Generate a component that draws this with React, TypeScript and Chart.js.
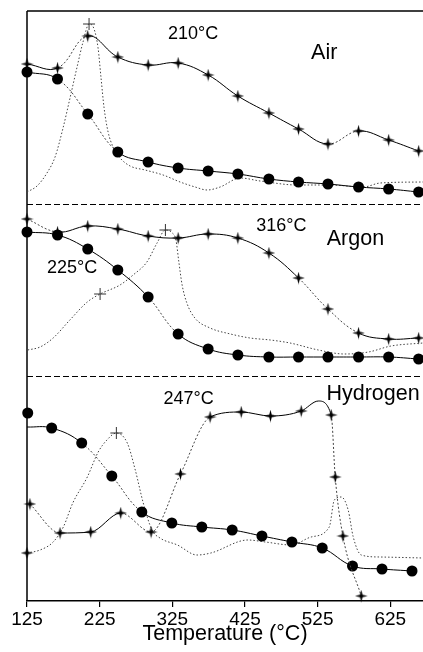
import React, { useEffect, useRef } from 'react';
import { Chart, registerables } from 'chart.js';

Chart.register(...registerables);

// ---------- axes ----------
const X_MIN = 125;
const X_MAX = 670;
const X_TICKS = [125, 225, 325, 425, 525, 625];
const X_TITLE = 'Temperature (°C)';
const Y_MIN = 0; // arbitrary, vertically offset units
const Y_MAX = 590;
const SEPARATORS = [397, 225];

// ---------- Air panel ----------
const AIR_T = [125, 167, 208.6, 250, 291.7, 333, 374.3, 415.2, 457.9, 498.7, 539.2, 581.3, 622.7, 664];
const AIR_STAR = [537, 533, 565, 544, 536, 538, 526, 505, 488, 472, 457, 470, 461, 450];
const AIR_CIRCLE = [529, 522, 487, 449, 439, 433, 430, 427, 422, 419, 417, 414, 412, 409];
const AIR_SIGNAL_T = [125, 138.8, 152.5, 163.6, 174.6, 184.2, 193.9, 202.1, 210.4, 217.3, 222.8, 226.9, 231.1, 236.6, 243.5, 253.1, 266.9, 287.5, 312.3, 335.7, 356.4, 372.9, 390.8, 418.4, 445.9, 496.9, 542.4, 587.8, 611.2, 670];
const AIR_SIGNAL = [409, 415, 428, 444, 473, 503, 534, 559, 577, 572, 553, 523, 493, 469, 454, 443, 435, 431, 426, 419, 414, 411, 414, 423, 420, 416, 416, 414, 418, 419];
const AIR_PEAK_T = [210.4];
const AIR_PEAK = [577];

// ---------- Argon panel ----------
const ARGON_T = AIR_T;
const ARGON_STAR = [382, 369, 375, 372, 365, 363, 367, 363, 348, 323, 292, 268, 262, 263];
const ARGON_CIRCLE = [369, 366, 352, 331, 304, 267, 252, 246, 244, 244, 244, 244, 244, 242];
const ARGON_SIGNAL_T = [126, 143, 161, 184, 208, 225.6, 253, 271, 290, 304, 315.5, 325, 330, 334, 338.5, 345, 356, 377, 405, 432, 460, 487, 526, 562, 595, 626, 670];
const ARGON_SIGNAL = [251, 254, 263, 281, 299, 307, 316, 326, 339, 358, 371, 368, 361, 339, 316, 298, 283, 273, 267, 263, 261, 258, 251, 247, 249, 255, 258];
const ARGON_PEAK_T = [225.6, 315.5];
const ARGON_PEAK = [307, 371];

// ---------- Hydrogen panel ----------
const H2_STAR_T = [129, 170.5, 212.7, 254, 295.8, 336.2, 377, 419.8, 460.1, 502.4, 526, 543.7, 549.2, 559.8, 585];
const H2_STAR = [97, 68, 69, 88, 69, 127, 184, 189, 185, 190, 200, 186, 124, 65, 5];
const H2_CIRCLE_T = [125, 159, 200.3, 241.7, 283, 324.3, 365.6, 407.4, 448.3, 489.6, 531.3, 573, 613.6, 654.9];
const H2_CIRCLE = [174, 173, 158, 125, 89, 78, 74, 71, 65, 59, 53, 35, 32, 30];
const H2_FIRST_CIRCLE_T = [126];
const H2_FIRST_CIRCLE = [188];
const H2_SIGNAL_T = [125, 143, 161, 175, 188, 208, 223, 235, 248, 263, 274, 285, 297, 308, 332, 359, 378, 429, 453, 489, 516, 541, 548, 557.5, 567, 574, 585, 611, 670];
const H2_SIGNAL = [48, 51, 59, 74, 98, 124, 149, 161, 168, 158, 131, 98, 71, 63, 56, 46, 48, 61, 59, 56, 64, 74, 101, 104, 91, 64, 46, 44, 43];
const H2_PEAK_T = [248];
const H2_PEAK = [168];

// ---------- text labels (data coordinates) ----------
const LABELS = [
  { text: '210°C', x: 353.6, y: 567, size: 18 },
  { text: 'Air', x: 534, y: 547.5, size: 21.5 },
  { text: '316°C', x: 475, y: 374.5, size: 18 },
  { text: 'Argon', x: 577, y: 362, size: 21.5 },
  { text: '225°C', x: 187, y: 332.7, size: 18 },
  { text: '247°C', x: 347.4, y: 201.5, size: 18 },
  { text: 'Hydrogen', x: 601.2, y: 206.5, size: 21.5 },
];

// ---------- line-style details (segment indices drawn dotted) ----------
const AIR_STAR_DOTTED = [1, 10];
const AIR_CIRCLE_DOTTED = [1, 2];
const ARGON_STAR_DOTTED = [0, 9, 10];
const ARGON_CIRCLE_DOTTED = [4];
const H2_STAR_DOTTED = [0, 3, 4, 5, 11, 12, 13];
const H2_STAR_UNMARKED = [10];
const H2_CIRCLE_DOTTED = [2, 3];
const H2_CIRCLE_UNMARKED = [0];

const FONT = '"Liberation Sans", Arial, sans-serif';

function makeStar(size: number) {
  const c = document.createElement('canvas');
  c.width = size;
  c.height = size;
  const g = c.getContext('2d')!;
  const m = size / 2;
  const R = size / 2 - 0.2;
  const r = 1.8;
  g.beginPath();
  for (let i = 0; i < 8; i++) {
    const ang = -Math.PI / 2 + (i * Math.PI) / 4;
    const rad = i % 2 === 0 ? R : r;
    const px = m + rad * Math.cos(ang);
    const py = m + rad * Math.sin(ang);
    if (i === 0) g.moveTo(px, py);
    else g.lineTo(px, py);
  }
  g.closePath();
  g.fillStyle = '#000';
  g.fill();
  return c;
}

const pts = (xs: number[], ys: number[]) => xs.map((x, i) => ({ x, y: ys[i] }));

const decorPlugin = {
  id: 'decor',
  afterLayout(chart: any) {
    // let the plot area run to the right edge of the canvas
    const a = chart.chartArea;
    const x = chart.scales.x;
    a.right = chart.width;
    a.width = a.right - a.left;
    x.right = chart.width;
    x.width = x.right - x.left;
    x.configure();
  },
  beforeDatasetsDraw(chart: any) {
    const { ctx, chartArea: a, scales } = chart;
    const y = scales.y;
    ctx.save();
    ctx.strokeStyle = '#000';
    ctx.lineWidth = 1.5;
    ctx.beginPath();
    ctx.moveTo(a.left, a.top);
    ctx.lineTo(a.right, a.top);
    ctx.moveTo(a.left, a.top);
    ctx.lineTo(a.left, a.bottom);
    ctx.stroke();
    ctx.lineWidth = 1;
    ctx.setLineDash([6, 3]);
    SEPARATORS.forEach((v) => {
      const py = Math.round(y.getPixelForValue(v)) + 0.5;
      ctx.beginPath();
      ctx.moveTo(a.left, py);
      ctx.lineTo(a.right, py);
      ctx.stroke();
    });
    ctx.restore();
  },
  afterDatasetsDraw(chart: any) {
    const { ctx, scales } = chart;
    ctx.save();
    ctx.fillStyle = '#000';
    ctx.textAlign = 'center';
    ctx.textBaseline = 'middle';
    LABELS.forEach((l) => {
      ctx.font = `${l.size}px ${FONT}`;
      ctx.fillText(l.text, scales.x.getPixelForValue(l.x), scales.y.getPixelForValue(l.y));
    });
    ctx.restore();
  },
};

export default function App() {
  const ref = useRef<HTMLCanvasElement>(null);

  useEffect(() => {
    const canvas = ref.current;
    if (!canvas) return;
    const star = makeStar(13);

    const seg = (dotted: number[]) => ({
      borderDash: (c: any) => (dotted.includes(c.p0DataIndex) ? [2, 2] : undefined),
      borderColor: (c: any) => (dotted.includes(c.p0DataIndex) ? '#444' : undefined),
    });

    const markerLine = (
      data: any[],
      style: any,
      radius: number,
      dotted: number[],
      unmarked: number[] = [],
      monotone = false
    ) => ({
      type: 'line',
      data,
      borderColor: '#000',
      borderWidth: 1,
      tension: 0.4,
      cubicInterpolationMode: monotone ? 'monotone' : 'default',
      pointStyle: style,
      pointRadius: (c: any) => (unmarked.includes(c.dataIndex) ? 0 : radius),
      pointBackgroundColor: '#000',
      pointBorderColor: '#000',
      pointBorderWidth: 0,
      clip: false,
      segment: seg(dotted),
    });

    const signal = (data: any[], startStar = false) => ({
      type: 'line',
      data,
      borderColor: '#444',
      borderWidth: 1,
      borderDash: [1.5, 2],
      cubicInterpolationMode: 'monotone',
      pointStyle: (c: any) => (startStar && c.dataIndex === 0 ? star : 'circle'),
      pointRadius: (c: any) => (startStar && c.dataIndex === 0 ? 5 : 0),
      clip: false,
    });

    const peaks = (data: any[]) => ({
      type: 'line',
      data,
      showLine: false,
      pointStyle: 'cross',
      pointRadius: 6,
      pointBorderColor: '#333',
      pointBorderWidth: 1,
      clip: false,
    });

    const datasets: any[] = [
      peaks(pts(AIR_PEAK_T, AIR_PEAK)),
      peaks(pts(ARGON_PEAK_T, ARGON_PEAK)),
      peaks(pts(H2_PEAK_T, H2_PEAK)),
      markerLine(pts(AIR_T, AIR_STAR), star, 5, AIR_STAR_DOTTED),
      markerLine(pts(AIR_T, AIR_CIRCLE), 'circle', 5.5, AIR_CIRCLE_DOTTED),
      markerLine(pts(ARGON_T, ARGON_STAR), star, 5, ARGON_STAR_DOTTED),
      markerLine(pts(ARGON_T, ARGON_CIRCLE), 'circle', 5.5, ARGON_CIRCLE_DOTTED),
      markerLine(pts(H2_STAR_T, H2_STAR), star, 5, H2_STAR_DOTTED, H2_STAR_UNMARKED, true),
      markerLine(pts(H2_CIRCLE_T, H2_CIRCLE), 'circle', 5.5, H2_CIRCLE_DOTTED, H2_CIRCLE_UNMARKED),
      { ...markerLine(pts(H2_FIRST_CIRCLE_T, H2_FIRST_CIRCLE), 'circle', 5.5, []), showLine: false },
      signal(pts(AIR_SIGNAL_T, AIR_SIGNAL)),
      signal(pts(ARGON_SIGNAL_T, ARGON_SIGNAL)),
      signal(pts(H2_SIGNAL_T, H2_SIGNAL), true),
    ];

    const chart = new Chart(canvas, {
      type: 'line',
      data: { datasets },
      plugins: [decorPlugin],
      options: {
        animation: false,
        responsive: false,
        events: [],
        layout: { padding: { left: 27, top: 11, right: 0, bottom: 0 } },
        plugins: { legend: { display: false }, tooltip: { enabled: false } },
        scales: {
          x: {
            type: 'linear',
            min: X_MIN,
            max: X_MAX,
            afterBuildTicks: (s: any) => {
              s.ticks = X_TICKS.map((v) => ({ value: v }));
            },
            afterFit: (s: any) => {
              s.height = 51;
              s.paddingLeft = 0;
              s.paddingRight = 0;
            },
            grid: {
              display: true,
              drawOnChartArea: false,
              drawTicks: true,
              tickLength: 6,
              color: '#000',
              lineWidth: 1.2,
            },
            border: { display: true, color: '#000', width: 1.5 },
            ticks: {
              color: '#000',
              font: { family: FONT, size: 19, lineHeight: 1 },
              padding: 3,
              maxRotation: 0,
              autoSkip: false,
              callback: (v: any) => String(v),
            },
            title: {
              display: true,
              text: X_TITLE,
              color: '#000',
              font: { family: FONT, size: 21.5, lineHeight: 1.2 },
              padding: { top: 0, bottom: 5 },
            },
          },
          y: {
            type: 'linear',
            display: false,
            min: Y_MIN,
            max: Y_MAX,
          },
        },
      } as any,
    });
    return () => chart.destroy();
  }, []);

  return (
    <div style={{ position: 'fixed', left: 0, top: 0, width: 423, height: 652, background: '#fff' }}>
      <canvas ref={ref} width={423} height={652} style={{ display: 'block' }} />
    </div>
  );
}
